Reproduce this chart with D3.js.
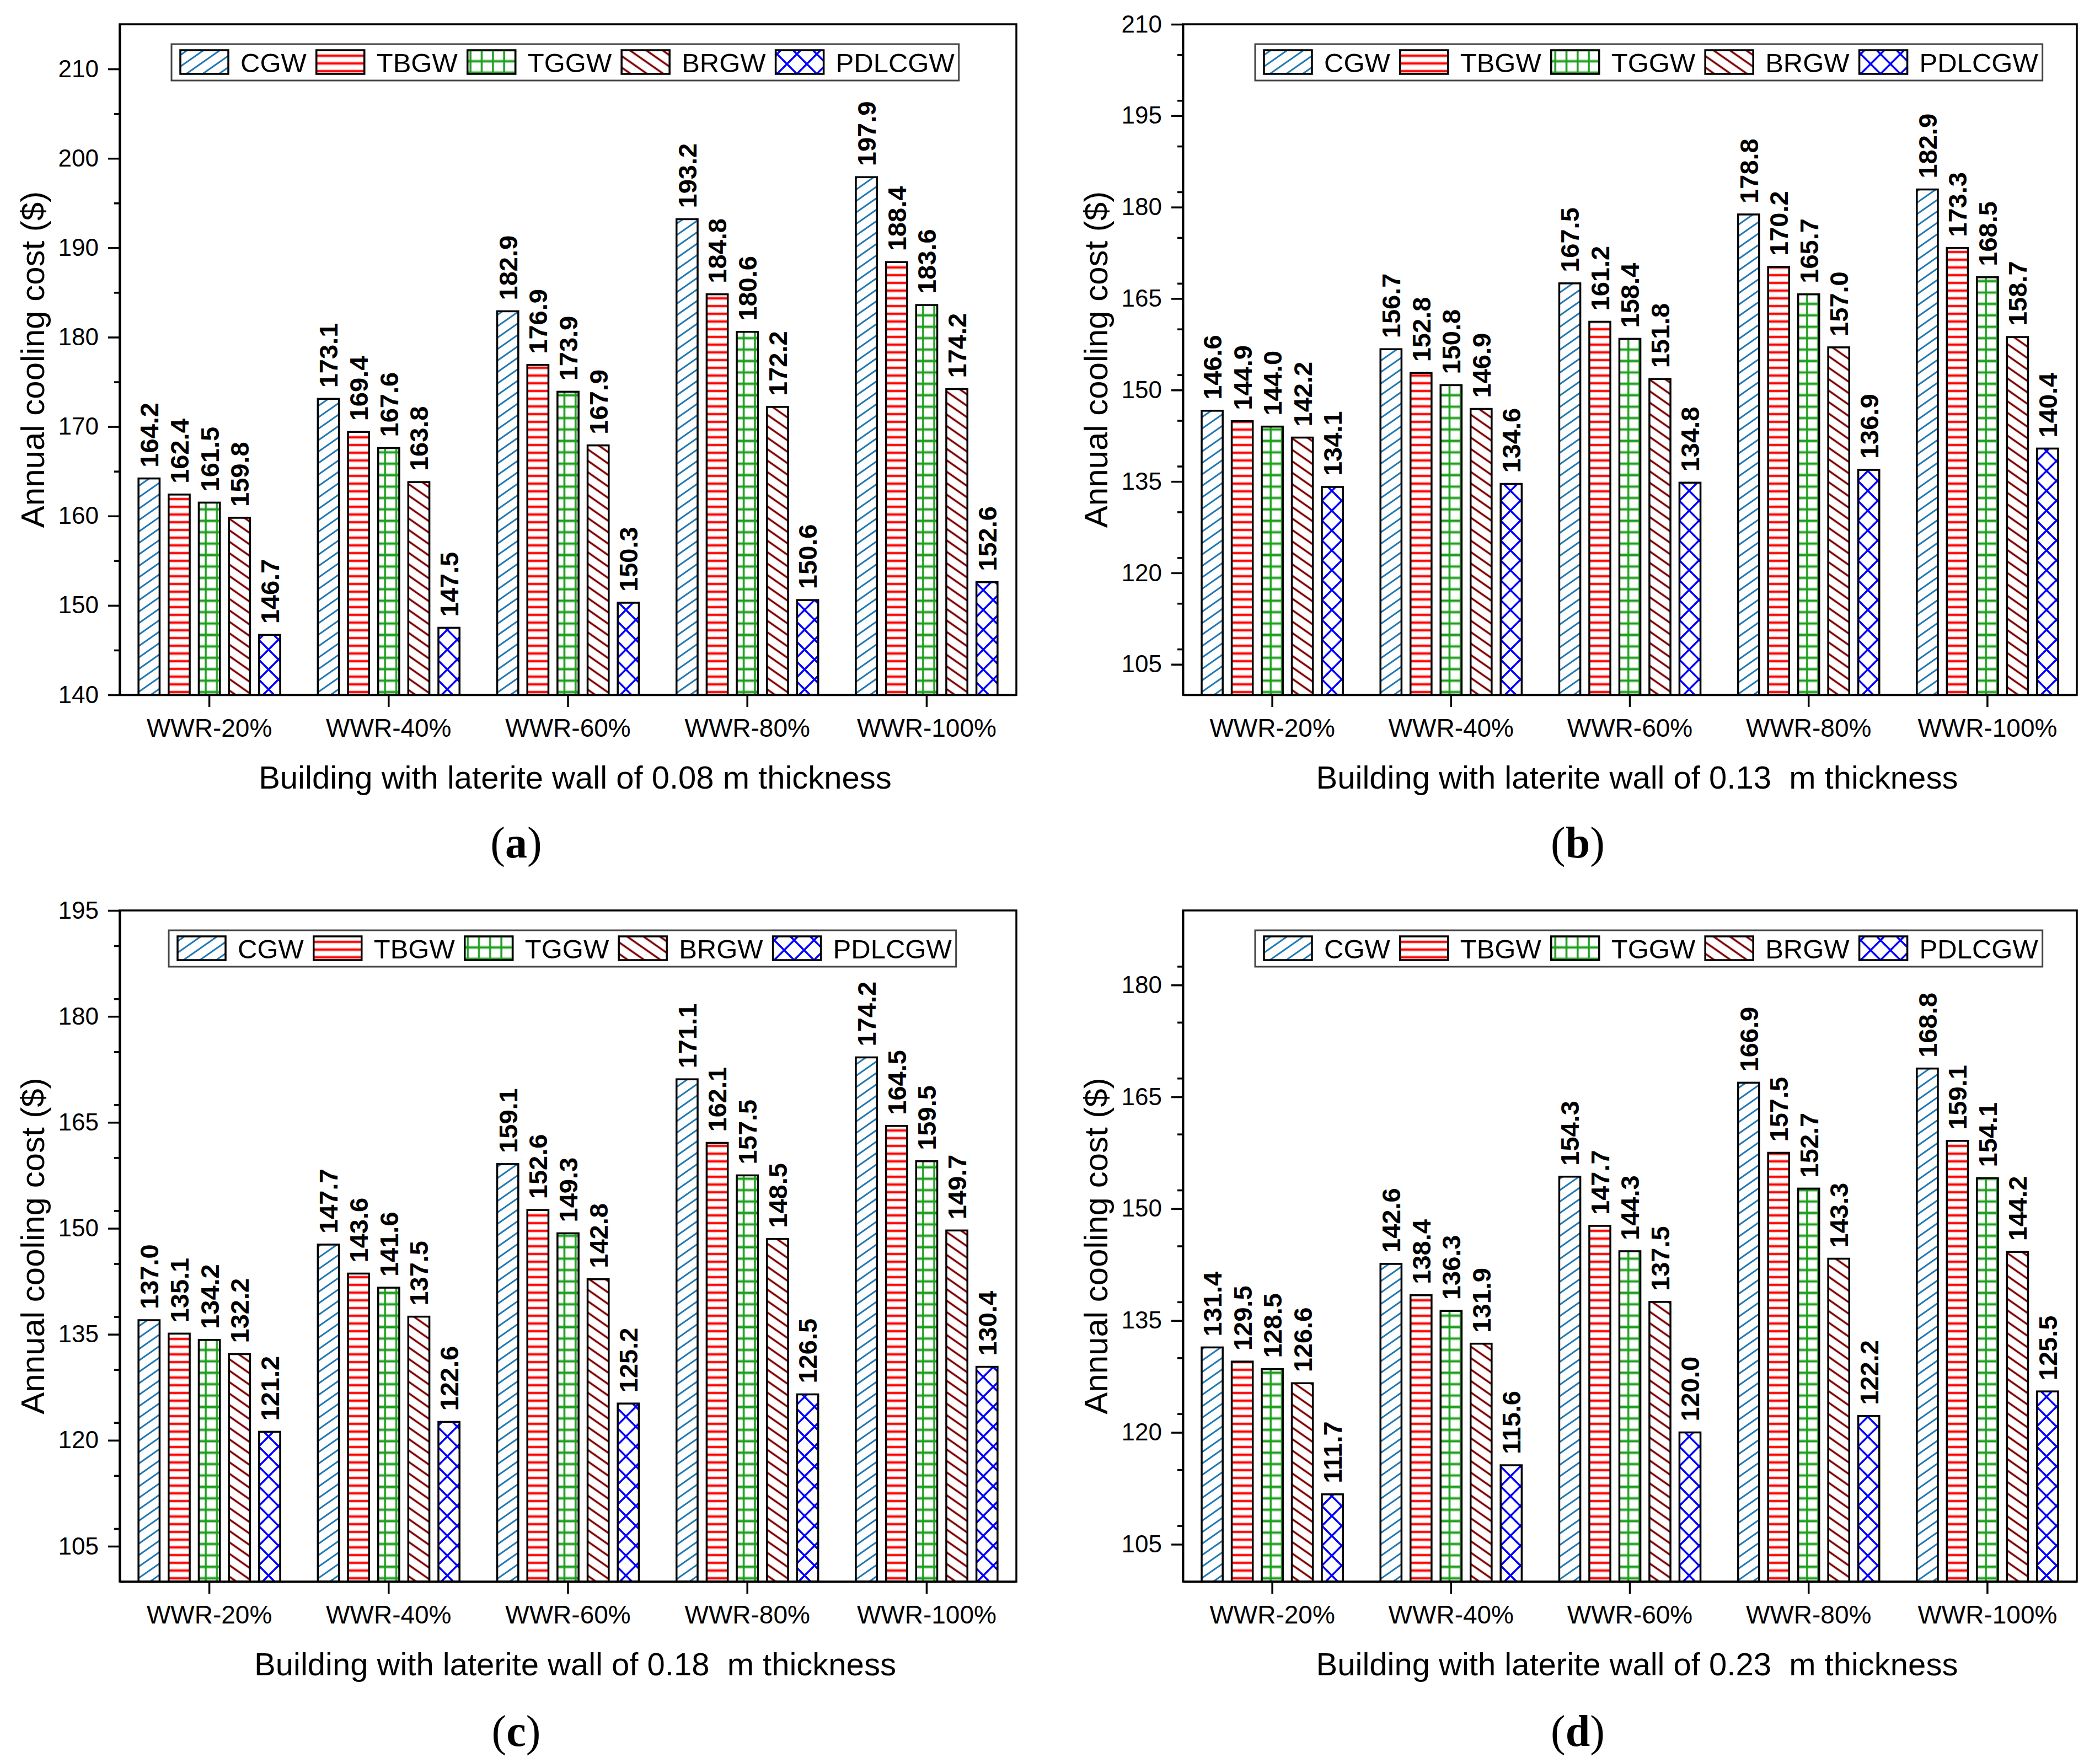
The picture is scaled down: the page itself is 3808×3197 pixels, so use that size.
<!DOCTYPE html>
<html>
<head>
<meta charset="utf-8">
<script src="https://cdn.jsdelivr.net/npm/d3@7"></script>
<style>
  body { margin: 0; background: #fff; }
  text { font-family: "Liberation Sans", Arial, sans-serif; fill: #000; }
</style>
</head>
<body>
<svg id="fig" width="3808" height="3197"></svg>
<script>
// categories and series
const categories = ["WWR-20%", "WWR-40%", "WWR-60%", "WWR-80%", "WWR-100%"];
const series = ["CGW", "TBGW", "TGGW", "BRGW", "PDLCGW"];

// annual cooling cost ($), one value per WWR category
// (a) 0.08 m wall
const cgw008 = [164.2, 173.1, 182.9, 193.2, 197.9];
const tbgw008 = [162.4, 169.4, 176.9, 184.8, 188.4];
const tggw008 = [161.5, 167.6, 173.9, 180.6, 183.6];
const brgw008 = [159.8, 163.8, 167.9, 172.2, 174.2];
const pdlcgw008 = [146.7, 147.5, 150.3, 150.6, 152.6];
// (b) 0.13 m wall
const cgw013 = [146.6, 156.7, 167.5, 178.8, 182.9];
const tbgw013 = [144.9, 152.8, 161.2, 170.2, 173.3];
const tggw013 = [144.0, 150.8, 158.4, 165.7, 168.5];
const brgw013 = [142.2, 146.9, 151.8, 157.0, 158.7];
const pdlcgw013 = [134.1, 134.6, 134.8, 136.9, 140.4];
// (c) 0.18 m wall
const cgw018 = [137.0, 147.7, 159.1, 171.1, 174.2];
const tbgw018 = [135.1, 143.6, 152.6, 162.1, 164.5];
const tggw018 = [134.2, 141.6, 149.3, 157.5, 159.5];
const brgw018 = [132.2, 137.5, 142.8, 148.5, 149.7];
const pdlcgw018 = [121.2, 122.6, 125.2, 126.5, 130.4];
// (d) 0.23 m wall
const cgw023 = [131.4, 142.6, 154.3, 166.9, 168.8];
const tbgw023 = [129.5, 138.4, 147.7, 157.5, 159.1];
const tggw023 = [128.5, 136.3, 144.3, 152.7, 154.1];
const brgw023 = [126.6, 131.9, 137.5, 143.3, 144.2];
const pdlcgw023 = [111.7, 115.6, 120.0, 122.2, 125.5];

// y axis ticks
const ticksA = [140, 150, 160, 170, 180, 190, 200, 210];
const ticksB = [105, 120, 135, 150, 165, 180, 195, 210];
const ticksC = [105, 120, 135, 150, 165, 180, 195];
const ticksD = [105, 120, 135, 150, 165, 180];

const panels = [
  { key: "a", values: [cgw008, tbgw008, tggw008, brgw008, pdlcgw008], domain: [140, 215], ticks: ticksA,
    title: "Building with laterite wall of 0.08 m thickness",
    left: 217, right: 1843, top: 44, bottom: 1260, legendX: 311, labelX: 936, labelY: 1555 },
  { key: "b", values: [cgw013, tbgw013, tggw013, brgw013, pdlcgw013], domain: [100, 210], ticks: ticksB,
    title: "Building with laterite wall of 0.13  m thickness",
    left: 2145, right: 3766, top: 44, bottom: 1260, legendX: 2276, labelX: 2861, labelY: 1555 },
  { key: "c", values: [cgw018, tbgw018, tggw018, brgw018, pdlcgw018], domain: [100, 195], ticks: ticksC,
    title: "Building with laterite wall of 0.18  m thickness",
    left: 217, right: 1843, top: 1651, bottom: 2868, legendX: 306, labelX: 936, labelY: 3166 },
  { key: "d", values: [cgw023, tbgw023, tggw023, brgw023, pdlcgw023], domain: [100, 190], ticks: ticksD,
    title: "Building with laterite wall of 0.23  m thickness",
    left: 2145, right: 3766, top: 1651, bottom: 2868, legendX: 2276, labelX: 2861, labelY: 3166 }
];

const colors = { CGW: "#1f78b4", TBGW: "#ff0000", TGGW: "#1f9f1f", BRGW: "#800000", PDLCGW: "#0000ff" };

const svg = d3.select("#fig");
svg.append("rect").attr("width", 3808).attr("height", 3197).attr("fill", "#fff");
const defs = svg.append("defs");

// hatch patterns, one set per panel so the green grid lines up with the bars
function addPatterns(key, gridX) {
  defs.append("pattern").attr("id", `CGW-${key}`).attr("patternUnits", "userSpaceOnUse")
    .attr("width", 40).attr("height", 17).attr("patternTransform", "rotate(-35)")
    .append("line").attr("x1", -5).attr("x2", 45).attr("y1", 8.5).attr("y2", 8.5)
    .attr("stroke", colors.CGW).attr("stroke-width", 3);

  const tb = defs.append("pattern").attr("id", `TBGW-${key}`).attr("patternUnits", "userSpaceOnUse")
    .attr("width", 20).attr("height", 14);
  tb.append("line").attr("x1", 0).attr("x2", 20).attr("y1", 7).attr("y2", 7)
    .attr("stroke", "#ffc4c4").attr("stroke-width", 7);
  tb.append("line").attr("x1", 0).attr("x2", 20).attr("y1", 7).attr("y2", 7)
    .attr("stroke", colors.TBGW).attr("stroke-width", 3.5);

  const gridW = gridX.step;
  const tg = defs.append("pattern").attr("id", `TGGW-${key}`).attr("patternUnits", "userSpaceOnUse")
    .attr("x", gridX.origin).attr("width", gridW).attr("height", 20.7);
  tg.append("path").attr("d", `M0,10.35H${gridW}`).attr("stroke", "#bfe6bf").attr("stroke-width", 7);
  tg.append("path").attr("d", `M0,10.35H${gridW}M0,0V20.7M${gridW},0V20.7`)
    .attr("stroke", colors.TGGW).attr("stroke-width", 3.5);

  defs.append("pattern").attr("id", `BRGW-${key}`).attr("patternUnits", "userSpaceOnUse")
    .attr("width", 40).attr("height", 17).attr("patternTransform", "rotate(35)")
    .append("line").attr("x1", -5).attr("x2", 45).attr("y1", 8.5).attr("y2", 8.5)
    .attr("stroke", colors.BRGW).attr("stroke-width", 3.5);

  defs.append("pattern").attr("id", `PDLCGW-${key}`).attr("patternUnits", "userSpaceOnUse")
    .attr("width", 36).attr("height", 36)
    .append("path").attr("d", "M0,0L36,36M36,0L0,36")
    .attr("stroke", colors.PDLCGW).attr("stroke-width", 3.5).attr("fill", "none");
}

panels.forEach(p => {
  const width = p.right - p.left;
  const height = p.bottom - p.top;
  const g = svg.append("g").attr("transform", `translate(${p.left},${p.top})`);

  const x0 = d3.scaleBand().domain(categories).range([0, width]).padding(0);
  const bw = x0.bandwidth();
  const x1 = d3.scaleBand().domain(series).range([-0.395 * bw, 0.395 * bw]).paddingInner(0.3).paddingOuter(0);
  const y = d3.scaleLinear().domain(p.domain).range([height, 0]);

  addPatterns(p.key, { origin: p.left + bw / 2, step: bw / 16 });

  // bars
  series.forEach((s, j) => {
    g.selectAll(`.bar-${s}`)
      .data(p.values[j])
      .enter()
      .append("rect")
      .attr("x", (d, i) => x0(categories[i]) + bw / 2 + x1(s))
      .attr("y", d => y(d))
      .attr("width", x1.bandwidth())
      .attr("height", d => height - y(d))
      .attr("fill", `url(#${s}-${p.key})`)
      .attr("stroke", "#000")
      .attr("stroke-width", 3.5);

    g.selectAll(`.lbl-${s}`)
      .data(p.values[j])
      .enter()
      .append("text")
      .attr("transform", (d, i) => `translate(${x0(categories[i]) + bw / 2 + x1(s) + x1.bandwidth() / 2},${y(d) - 20}) rotate(-90)`)
      .attr("dy", "0.36em")
      .style("font-size", "47px")
      .style("font-weight", "bold")
      .text(d => d.toFixed(1));
  });

  // frame
  g.append("rect").attr("width", width).attr("height", height)
    .attr("fill", "none").attr("stroke", "#000").attr("stroke-width", 3.5);

  // axes
  const step = p.ticks[1] - p.ticks[0];
  const minors = d3.range(p.domain[0], p.domain[1] + 0.01, step / 2)
    .filter(v => !p.ticks.includes(v) && v > p.domain[0] && v < p.domain[1]);

  const yAxis = g.append("g")
    .call(d3.axisLeft(y).tickValues(p.ticks).tickSize(21).tickSizeOuter(0).tickPadding(17).tickFormat(d3.format("d")));
  g.append("g")
    .call(d3.axisLeft(y).tickValues(minors).tickSize(10).tickSizeOuter(0).tickFormat(""));
  const xAxis = g.append("g")
    .attr("transform", `translate(0,${height})`)
    .call(d3.axisBottom(x0).tickSize(22).tickSizeOuter(0).tickPadding(21));

  g.selectAll(".domain, .tick line").attr("stroke", "#000").attr("stroke-width", 3.5);
  yAxis.selectAll("text").style("font-size", "44px");
  xAxis.selectAll("text").style("font-size", "46px");

  // axis titles
  g.append("text")
    .attr("transform", `translate(${-157 + 20},${height / 2}) rotate(-90)`)
    .attr("text-anchor", "middle")
    .style("font-size", "60px")
    .text("Annual cooling cost ($)");
  g.append("text")
    .attr("x", width / 2 + 13)
    .attr("y", height + 170)
    .attr("text-anchor", "middle")
    .style("font-size", "58px")
    .style("white-space", "pre")
    .attr("xml:space", "preserve")
    .text(p.title);

  // legend
  const lg = svg.append("g").attr("transform", `translate(${p.legendX},${p.top + 36})`);
  const box = lg.append("rect").attr("height", 66).attr("fill", "#fff")
    .attr("stroke", "#444").attr("stroke-width", 3);
  let cx = 16;
  series.forEach(s => {
    lg.append("rect").attr("x", cx).attr("y", 11).attr("width", 87).attr("height", 43)
      .attr("fill", `url(#${s}-${p.key})`).attr("stroke", "#000").attr("stroke-width", 3.5);
    const t = lg.append("text").attr("x", cx + 87 + 22).attr("y", 33).attr("dy", "0.36em")
      .style("font-size", "49px").text(s);
    cx += 87 + 22 + t.node().getComputedTextLength() + 18;
  });
  box.attr("width", cx - 10);

  // panel letter
  const pl = svg.append("text")
    .attr("x", p.labelX).attr("y", p.labelY)
    .attr("text-anchor", "middle")
    .style("font-family", "'Liberation Serif', 'Times New Roman', serif")
    .style("font-size", "80px");
  pl.append("tspan").text("(");
  pl.append("tspan").style("font-weight", "bold").text(p.key);
  pl.append("tspan").text(")");
});
</script>
</body>
</html>
